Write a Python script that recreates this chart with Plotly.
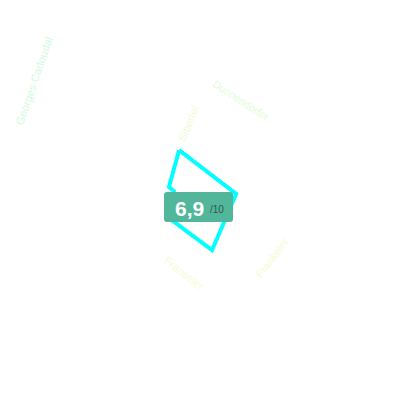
import plotly.graph_objects as go

# Radar outline: bearing (degrees clockwise from up) and value
bearings = [-22.8, 80.5, 166.5, 237.7, 289, 292.8]
values = [9.0, 6.1, 8.6, 5.9, 4.6, 5.6]

label_texts = ["Georges Cadoudal", "Sibertel", "Dunnendorfer", "Frankeler", "Franseler"]
label_x = [34, 188, 241, 272, 184]
label_y = [81, 124, 100, 258, 273]
label_angles = [-71, -68, 33, -52, 38]
label_colors = ["#d5fadf", "#effbd6", "#e3fcd8", "#f3fcd2", "#f7fbd2"]
label_sizes = [11, 11, 10.5, 11, 11]

score_text = "<b>6,9</b>"
score_max = "/10"

fig = go.Figure()
fig.add_trace(go.Scatterpolar(
    r=values + values[:1],
    theta=bearings + bearings[:1],
    mode="lines",
    line=dict(color="#00ffff", width=4),
    hoverinfo="skip",
    showlegend=False,
))

for t, x, y, a, c, s in zip(label_texts, label_x, label_y, label_angles, label_colors, label_sizes):
    fig.add_annotation(
        xref="paper", yref="paper", x=x / 400, y=1 - y / 400,
        xanchor="center", yanchor="middle",
        text=t, textangle=a, showarrow=False,
        font=dict(family="Liberation Sans", size=s, color=c),
    )

fig.add_shape(
    type="path", xref="paper", yref="paper",
    path="M {l} {t} L {r} {t} Q {R} {t} {R} {T} L {R} {B} Q {R} {b} {r} {b} L {l} {b} Q {L} {b} {L} {B} L {L} {T} Q {L} {t} {l} {t} Z".format(
        L=164 / 400, R=233 / 400, l=167 / 400, r=230 / 400,
        t=1 - 192 / 400, b=1 - 222 / 400, T=1 - 195 / 400, B=1 - 219 / 400,
    ),
    fillcolor="#52b69a", line=dict(width=0), layer="above",
)
fig.add_annotation(
    xref="paper", yref="paper", x=189.5 / 400, y=1 - 208 / 400,
    xanchor="center", yanchor="middle",
    text=score_text, showarrow=False,
    font=dict(family="Liberation Sans", size=21, color="#ffffff"),
)
fig.add_annotation(
    xref="paper", yref="paper", x=217 / 400, y=1 - 209 / 400,
    xanchor="center", yanchor="middle",
    text=score_max, showarrow=False,
    font=dict(family="Liberation Sans", size=10, color="#33574d"),
)

fig.update_layout(
    width=400, height=400,
    margin=dict(l=0, r=0, t=0, b=0),
    paper_bgcolor="#ffffff",
    polar=dict(
        domain=dict(x=[0, 1], y=[0, 1]),
        bgcolor="#ffffff",
        radialaxis=dict(visible=False, range=[0, 33.3]),
        angularaxis=dict(visible=False, direction="clockwise", rotation=90, thetaunit="degrees"),
    ),
)
fig.write_html("out.html", post_script="document.body.style.margin='0';", config=dict(displayModeBar=False))
